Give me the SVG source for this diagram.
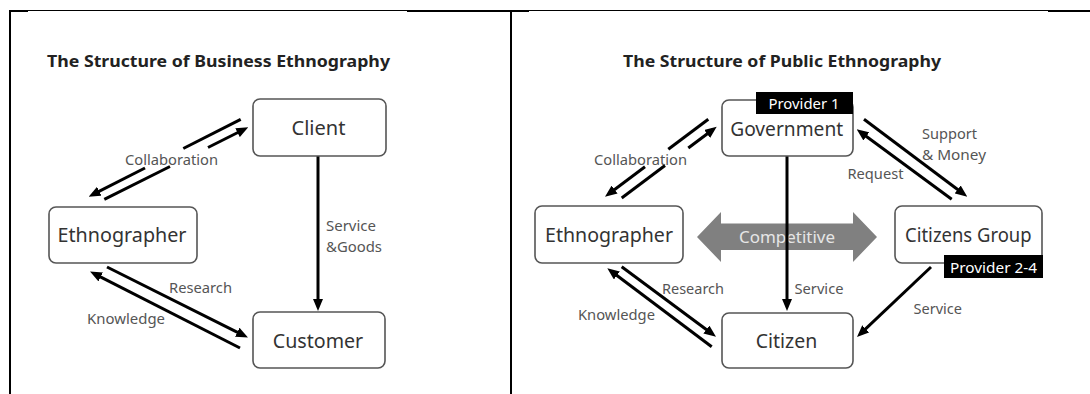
<svg xmlns="http://www.w3.org/2000/svg" width="1090" height="394" viewBox="0 0 1090 394">
<style>
  .frame { stroke: #000; fill: none; }
  .box { fill: #fff; stroke: #555; stroke-width: 1.6; }
  .node { font-family: "Noto Sans", "Open Sans", sans-serif; font-size: 19px; fill: #333; text-anchor: middle; }
  .lbl { font-family: "Noto Sans", "Open Sans", sans-serif; font-size: 13.5px; fill: #555; }
  .title { font-family: "Noto Sans", "Open Sans", sans-serif; font-size: 16px; font-weight: bold; fill: #222; }
  .tag { fill: #000; }
  .tagtxt { font-family: "Noto Sans", "Open Sans", sans-serif; font-size: 14px; fill: #fff; text-anchor: middle; }
  .ln { stroke: #000; stroke-width: 3; fill: none; }
  .arr { stroke: #000; stroke-width: 3; fill: none; marker-end: url(#ah); }
</style>
<defs>
  <marker id="ah" viewBox="0 0 12 10" refX="7" refY="5" markerWidth="12" markerHeight="10" markerUnits="userSpaceOnUse" orient="auto">
    <path d="M0,0 L12,5 L0,10 Z" fill="#000"/>
  </marker>
</defs>
<rect width="1090" height="394" fill="#fff"/>
<g id="table">
  <line class="frame" x1="9" y1="11" x2="28" y2="11" stroke-width="2"/>
  <line class="frame" x1="28" y1="10.5" x2="407" y2="10.5" stroke-width="1"/>
  <line class="frame" x1="407" y1="11" x2="529" y2="11" stroke-width="2"/>
  <line class="frame" x1="529" y1="10.5" x2="1048" y2="10.5" stroke-width="1"/>
  <line class="frame" x1="1048" y1="11" x2="1090" y2="11" stroke-width="2"/>
  <line class="frame" x1="10" y1="10" x2="10" y2="394" stroke-width="2"/>
  <line class="frame" x1="511" y1="10" x2="511" y2="394" stroke-width="2"/>
</g>
<text class="title" x="47" y="67" textLength="343" lengthAdjust="spacingAndGlyphs">The Structure of Business Ethnography</text>
<text class="title" x="623" y="67" textLength="318" lengthAdjust="spacingAndGlyphs">The Structure of Public Ethnography</text>

<g id="competitive">
  <polygon points="697,237 721,212 721,223.5 853,223.5 853,212 877,237 853,262 853,250 721,250 721,262" fill="#808080"/>
  <text x="787" y="243" font-family="Noto Sans, Open Sans, sans-serif" font-size="17" fill="#e6e6e6" text-anchor="middle" textLength="96" lengthAdjust="spacingAndGlyphs">Competitive</text>
</g>

<g id="connectors">
  <!-- left: collaboration -->
  <line class="ln" x1="240.7" y1="119.3" x2="183.3" y2="148.5"/>
  <line class="arr" x1="145" y1="168" x2="93.1" y2="194.4"/>
  <line class="ln" x1="104.3" y1="199.3" x2="170" y2="166.5"/>
  <line class="arr" x1="208" y1="147.5" x2="243.8" y2="129.5"/>
  <!-- left: service & goods -->
  <line class="arr" x1="318" y1="156" x2="318" y2="306"/>
  <!-- left: research / knowledge -->
  <line class="arr" x1="107" y1="267" x2="243.5" y2="335.3"/>
  <line class="arr" x1="240" y1="348" x2="94.5" y2="273.8"/>
  <!-- right: collaboration -->
  <line class="ln" x1="708.3" y1="119.3" x2="668.3" y2="149.3"/>
  <line class="arr" x1="645" y1="166.8" x2="609" y2="193.8"/>
  <line class="ln" x1="621.7" y1="198" x2="665" y2="165.5"/>
  <line class="arr" x1="688.3" y1="148" x2="712.7" y2="129.7"/>
  <!-- government to citizen -->
  <line class="arr" x1="787" y1="156" x2="787" y2="306"/>
  <!-- support & money / request -->
  <line class="arr" x1="864" y1="119.3" x2="963.3" y2="193.7"/>
  <line class="arr" x1="951.7" y1="199.3" x2="860.7" y2="132.3"/>
  <!-- right: research / knowledge -->
  <line class="arr" x1="621.7" y1="266.7" x2="712" y2="333.7"/>
  <line class="arr" x1="711.7" y1="346.7" x2="611.3" y2="271.3"/>
  <!-- citizens group to citizen -->
  <line class="arr" x1="931" y1="267" x2="860.6" y2="333.6"/>
</g>

<g id="labels">
  <text class="lbl" x="125" y="165" textLength="93" lengthAdjust="spacingAndGlyphs">Collaboration</text>
  <text class="lbl" x="326" y="231" textLength="50" lengthAdjust="spacingAndGlyphs">Service</text>
  <text class="lbl" x="326" y="251.5" textLength="56" lengthAdjust="spacingAndGlyphs">&amp;Goods</text>
  <text class="lbl" x="169" y="293" textLength="63" lengthAdjust="spacingAndGlyphs">Research</text>
  <text class="lbl" x="87" y="324" textLength="78" lengthAdjust="spacingAndGlyphs">Knowledge</text>
  <text class="lbl" x="594" y="165" textLength="93" lengthAdjust="spacingAndGlyphs">Collaboration</text>
  <text class="lbl" x="662" y="293.5" textLength="62" lengthAdjust="spacingAndGlyphs">Research</text>
  <text class="lbl" x="578" y="320" textLength="77" lengthAdjust="spacingAndGlyphs">Knowledge</text>
  <text class="lbl" x="794.5" y="293.5" textLength="49" lengthAdjust="spacingAndGlyphs">Service</text>
  <text class="lbl" x="922" y="139" textLength="55" lengthAdjust="spacingAndGlyphs">Support</text>
  <text class="lbl" x="922" y="159.5" textLength="64" lengthAdjust="spacingAndGlyphs">&amp; Money</text>
  <text class="lbl" x="847.5" y="179" textLength="56" lengthAdjust="spacingAndGlyphs">Request</text>
  <text class="lbl" x="913.5" y="313.5" textLength="48.5" lengthAdjust="spacingAndGlyphs">Service</text>
</g>

<g id="client">
  <rect class="box" x="253" y="99" width="133" height="57" rx="7"/>
  <text class="node" x="318.5" y="134.5" textLength="54" lengthAdjust="spacingAndGlyphs">Client</text>
</g>
<g id="ethnographer-left">
  <rect class="box" x="49" y="207" width="148" height="56" rx="7"/>
  <text class="node" x="122" y="241.5" textLength="129" lengthAdjust="spacingAndGlyphs">Ethnographer</text>
</g>
<g id="customer">
  <rect class="box" x="253" y="312" width="132" height="56" rx="7"/>
  <text class="node" x="318" y="348" textLength="90.5" lengthAdjust="spacingAndGlyphs">Customer</text>
</g>
<g id="government">
  <rect class="box" x="722" y="100" width="131" height="56" rx="7"/>
  <rect class="tag" x="756" y="92" width="97" height="22"/>
  <text class="tagtxt" x="804" y="109.3" textLength="71" lengthAdjust="spacingAndGlyphs">Provider 1</text>
  <text class="node" x="786.7" y="136" textLength="113" lengthAdjust="spacingAndGlyphs">Government</text>
</g>
<g id="ethnographer-right">
  <rect class="box" x="535" y="206" width="148" height="57" rx="7"/>
  <text class="node" x="609" y="241.5" textLength="128" lengthAdjust="spacingAndGlyphs">Ethnographer</text>
</g>
<g id="citizens-group">
  <rect class="box" x="895" y="206" width="147" height="57" rx="7"/>
  <rect class="tag" x="944" y="255" width="99" height="23"/>
  <text class="tagtxt" x="993.5" y="273" textLength="87" lengthAdjust="spacingAndGlyphs">Provider 2-4</text>
  <text class="node" x="968.3" y="241.5" textLength="126.5" lengthAdjust="spacingAndGlyphs">Citizens Group</text>
</g>
<g id="citizen">
  <rect class="box" x="722" y="313" width="131" height="55" rx="7"/>
  <text class="node" x="786.5" y="347.7" textLength="61.5" lengthAdjust="spacingAndGlyphs">Citizen</text>
</g>
</svg>
